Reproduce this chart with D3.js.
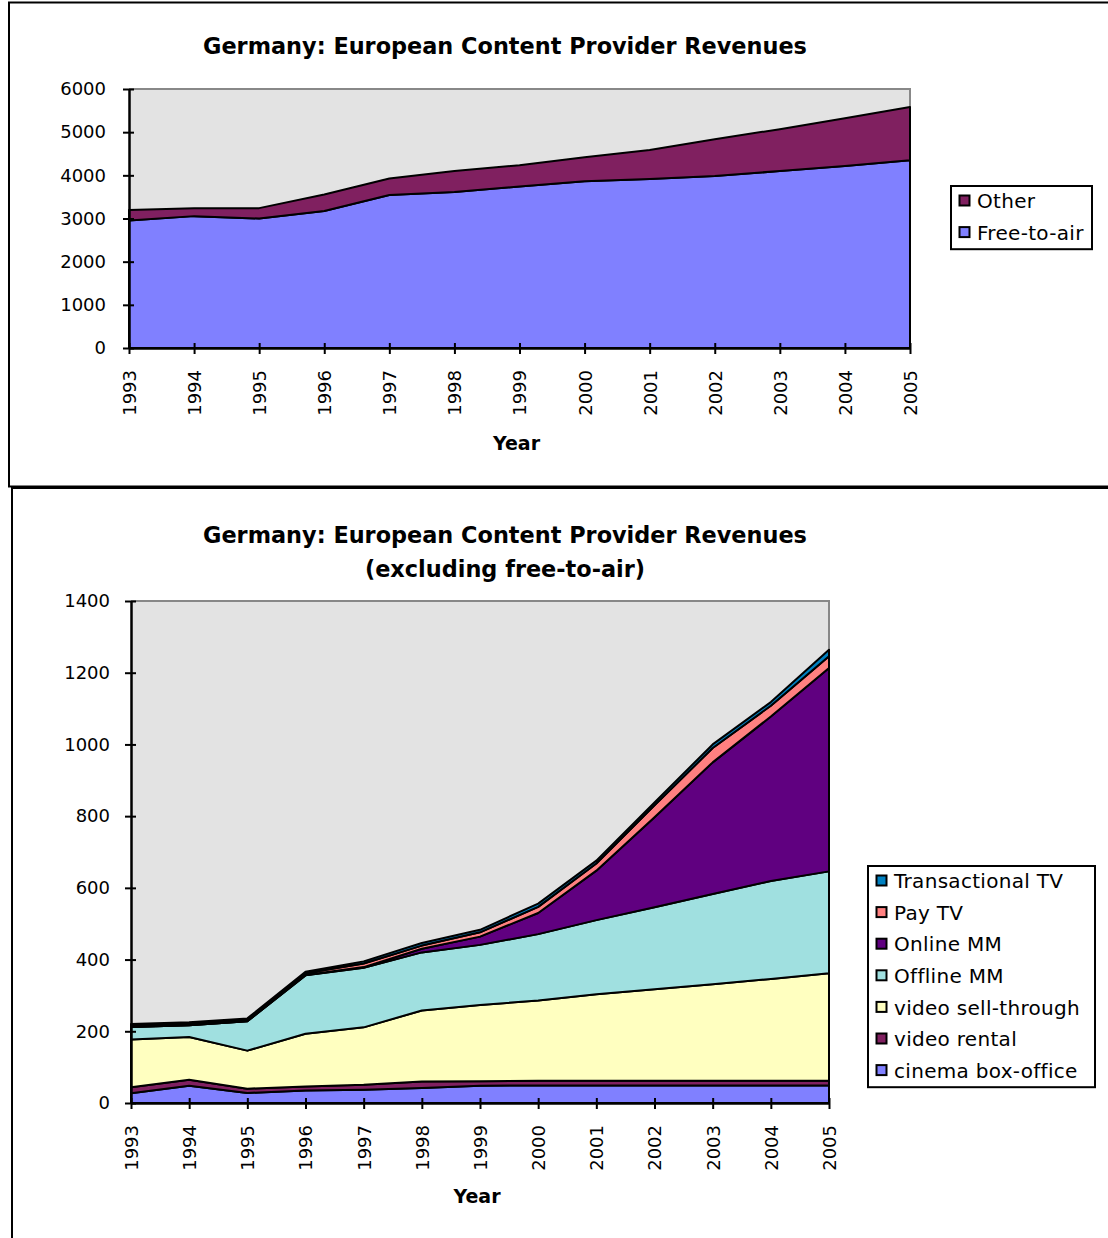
<!DOCTYPE html>
<html lang="en">
<head>
<meta charset="UTF-8">
<title>Germany: European Content Provider Revenues</title>
<script src="https://d3js.org/d3.v7.min.js"></script>
<style>
  body { margin: 0; background: #fff; }
  svg { display: block; font-family: "DejaVu Sans", sans-serif; }
</style>
</head>
<body>
<div id="chart"></div>
<script>
// years on the x axis (shared)
var years = [1993, 1994, 1995, 1996, 1997, 1998, 1999, 2000, 2001, 2002, 2003, 2004, 2005];

// top chart
var freeToAir = [2955, 3055, 3000, 3175, 3545, 3615, 3740, 3865, 3915, 3985, 4100, 4215, 4350];
var other     = [240, 180, 240, 380, 380, 485, 495, 555, 670, 850, 970, 1105, 1235];
var topTicks  = [0, 1000, 2000, 3000, 4000, 5000, 6000];

// bottom chart (excluding free-to-air), stacked bottom -> top
var cinema        = [27, 48, 28, 35, 37, 42, 48, 49, 49, 49, 49, 49, 49];
var videoRental   = [17, 17, 12, 11, 14, 18, 13, 13, 13, 13, 13, 13, 13];
var sellThrough   = [133, 119, 106, 147, 160, 198, 212, 224, 241, 255, 269, 284, 300];
var offlineMM     = [35, 33, 82, 163, 166, 162, 168, 185, 207, 229, 252, 273, 284];
var onlineMM      = [0, 0, 0, 1, 2, 10, 23, 59, 138, 251, 367, 459, 567];
var payTV         = [4, 4, 4, 5, 10, 9, 12, 17, 20, 33, 40, 30, 33];
var transactional = [4, 4, 4, 4, 6, 7, 7, 9, 8, 8, 10, 10, 18];
var bottomTicks   = [0, 200, 400, 600, 800, 1000, 1200, 1400];

var svg = d3.select("#chart").append("svg")
  .attr("width", 1108)
  .attr("height", 1238);

// outer frames
svg.append("rect").attr("x", 9).attr("y", 2.5).attr("width", 1120).attr("height", 484)
  .attr("fill", "none").attr("stroke", "#000").attr("stroke-width", 2);
svg.append("path").attr("d", "M12,1240 V488 H1110")
  .attr("fill", "none").attr("stroke", "#000").attr("stroke-width", 2);

function drawChart(cfg) {
  var w = cfg.right - cfg.left, h = cfg.bottom - cfg.top;
  var g = svg.append("g").attr("transform", "translate(" + cfg.left + "," + cfg.top + ")");

  var x = d3.scalePoint().domain(years).range([0, w]);
  var y = d3.scaleLinear().domain([0, d3.max(cfg.ticks)]).range([h, 0]);

  // title
  cfg.title.forEach(function(t, i) {
    svg.append("text")
      .attr("x", cfg.titleX).attr("y", cfg.titleY + i * 34)
      .attr("text-anchor", "middle")
      .attr("font-size", 22.4).attr("font-weight", "bold")
      .text(t);
  });

  // plot area
  g.append("rect").attr("width", w).attr("height", h).attr("fill", "#e3e3e3");
  g.append("path").attr("d", "M0,0 H" + w + " V" + h)
    .attr("fill", "none").attr("stroke", "#888").attr("stroke-width", 2);

  var rows = years.map(function(yr, i) {
    var r = { year: yr };
    cfg.series.forEach(function(s) { r[s.name] = s.values[i]; });
    return r;
  });
  var stacked = d3.stack().keys(cfg.series.map(function(s) { return s.name; }))(rows);

  var area = d3.area()
    .x(function(d) { return x(d.data.year); })
    .y0(function(d) { return y(d[0]); })
    .y1(function(d) { return y(d[1]); });

  g.selectAll(".layer").data(stacked).enter().append("path")
    .attr("class", "layer")
    .attr("d", area)
    .attr("fill", function(d, i) { return cfg.series[i].color; })
    .attr("stroke", "#000")
    .attr("stroke-width", 2)
    .attr("stroke-linejoin", "round");

  // y axis
  var ya = g.append("g")
    .call(d3.axisLeft(y).tickValues(cfg.ticks).tickFormat(d3.format("d"))
      .tickSize(6).tickPadding(cfg.yPad).tickSizeOuter(0));
  ya.select(".domain").attr("stroke-width", 2.5);
  ya.selectAll(".tick line").attr("x1", 5).attr("stroke-width", 2);
  ya.selectAll("text").attr("font-size", 18).attr("fill", "#000")
    .attr("font-family", "DejaVu Sans, sans-serif");

  // x axis
  var xa = g.append("g").attr("transform", "translate(0," + h + ")")
    .call(d3.axisBottom(x).tickSize(6).tickSizeOuter(0));
  xa.select(".domain").attr("stroke-width", 2.5);
  xa.selectAll(".tick line").attr("y1", -5).attr("stroke-width", 2);
  xa.selectAll("text")
    .attr("font-size", 18).attr("fill", "#000")
    .attr("font-family", "DejaVu Sans, sans-serif")
    .attr("transform", "rotate(-90)")
    .attr("text-anchor", "end")
    .attr("x", -cfg.xPad).attr("y", 0).attr("dy", "0.36em");

  svg.append("text")
    .attr("x", cfg.left + w / 2 - 3).attr("y", cfg.bottom + cfg.yearGap)
    .attr("text-anchor", "middle").attr("font-size", 19).attr("font-weight", "bold")
    .text("Year");

  // legend (top entry = last stacked series)
  var leg = svg.append("g").attr("transform", "translate(" + cfg.legX + "," + cfg.legY + ")");
  var items = cfg.series.slice().reverse();
  leg.append("rect").attr("width", cfg.legW).attr("height", items.length * 31.6)
    .attr("fill", "#fff").attr("stroke", "#000").attr("stroke-width", 2);
  items.forEach(function(s, i) {
    var cy = 15 + i * 31.6;
    leg.append("rect").attr("x", 8.5).attr("y", cy - 5.5).attr("width", 10).attr("height", 10)
      .attr("fill", s.color).attr("stroke", "#000").attr("stroke-width", 2);
    leg.append("text").attr("x", 26).attr("y", cy).attr("dy", "0.36em")
      .attr("font-size", 20).attr("letter-spacing", 0.3).text(s.name);
  });
}

drawChart({
  left: 129, right: 910, top: 89, bottom: 348,
  ticks: topTicks, yPad: 17, xPad: 22, yearGap: 102,
  title: ["Germany: European Content Provider Revenues"], titleX: 505, titleY: 54,
  legX: 951, legY: 186, legW: 141,
  series: [
    { name: "Free-to-air", values: freeToAir, color: "#8080ff" },
    { name: "Other", values: other, color: "#802060" }
  ]
});

drawChart({
  left: 131, right: 829, top: 601, bottom: 1103,
  ticks: bottomTicks, yPad: 15, xPad: 22, yearGap: 100,
  title: ["Germany: European Content Provider Revenues", "(excluding free-to-air)"], titleX: 505, titleY: 543,
  legX: 868, legY: 866, legW: 227,
  series: [
    { name: "cinema box-office", values: cinema, color: "#8080ff" },
    { name: "video rental", values: videoRental, color: "#802060" },
    { name: "video sell-through", values: sellThrough, color: "#ffffc0" },
    { name: "Offline MM", values: offlineMM, color: "#a0e0e0" },
    { name: "Online MM", values: onlineMM, color: "#600080" },
    { name: "Pay TV", values: payTV, color: "#ff8080" },
    { name: "Transactional TV", values: transactional, color: "#0080c0" }
  ]
});
</script>
</body>
</html>
